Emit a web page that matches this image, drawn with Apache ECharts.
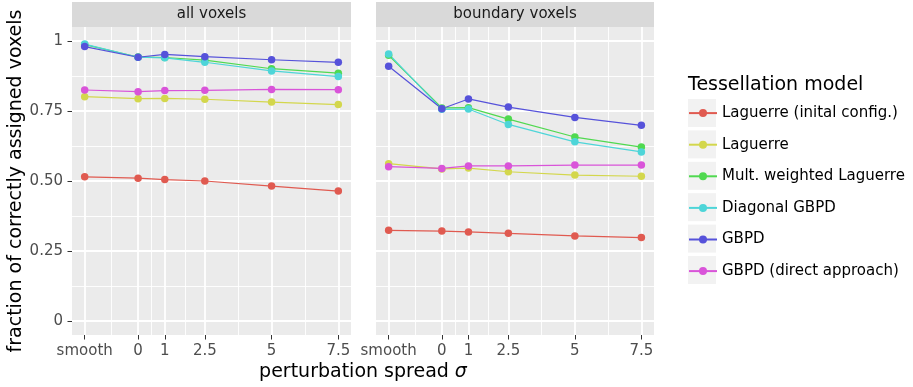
<!DOCTYPE html>
<html>
<head>
<meta charset="utf-8">
<script src="https://cdn.jsdelivr.net/npm/echarts@6/dist/echarts.min.js"></script>
<style>
  html, body { margin: 0; padding: 0; background: #fff; }
  #chart { width: 913px; height: 387px; }
</style>
</head>
<body>
<div id="chart"></div>
<script>
// perturbation spread (smooth sits left of 0)
const xLabels = ['smooth', '0', '1', '2.5', '5', '7.5'];
const xPos = [-2, 0, 1, 2.5, 5, 7.5];
const xMinor = [-1, 0.5, 1.75, 3.75, 6.25];
const yTicks = [0, 0.25, 0.5, 0.75, 1];
const yTickLabels = ['0', '0.25', '0.50', '0.75', '1'];
const yMinor = [0.125, 0.375, 0.625, 0.875];
const panels = ['all voxels', 'boundary voxels'];
const models = ['Laguerre (inital config.)', 'Laguerre', 'Mult. weighted Laguerre',
  'Diagonal GBPD', 'GBPD', 'GBPD (direct approach)'];
const colors = ['#E05A50', '#D3D74C', '#50D950', '#4ED5D8', '#5652DA', '#D954D9'];

// all voxels
const allLagInit = [0.515, 0.510, 0.505, 0.500, 0.482, 0.464];
const allLag     = [0.801, 0.794, 0.795, 0.792, 0.782, 0.773];
const allMwl     = [0.987, 0.943, 0.941, 0.932, 0.901, 0.885];
const allDiag    = [0.989, 0.942, 0.940, 0.924, 0.893, 0.873];
const allGbpd    = [0.980, 0.942, 0.952, 0.944, 0.933, 0.924];
const allDirect  = [0.825, 0.819, 0.823, 0.824, 0.827, 0.826];
// boundary voxels
const bndLagInit = [0.324, 0.321, 0.318, 0.313, 0.304, 0.298];
const bndLag     = [0.562, 0.543, 0.546, 0.533, 0.521, 0.517];
const bndMwl     = [0.949, 0.761, 0.762, 0.721, 0.657, 0.621];
const bndDiag    = [0.954, 0.756, 0.757, 0.702, 0.640, 0.604];
const bndGbpd    = [0.910, 0.758, 0.793, 0.764, 0.727, 0.699];
const bndDirect  = [0.551, 0.545, 0.554, 0.554, 0.557, 0.557];

const panelData = [
  [allLagInit, allLag, allMwl, allDiag, allGbpd, allDirect],
  [bndLagInit, bndLag, bndMwl, bndDiag, bndGbpd, bndDirect]
];

const font = 'DejaVu Sans';
const grids = [
  { left: 72, top: 27, width: 279, height: 308 },
  { left: 376, top: 27, width: 278, height: 308 }
];
const noTick = { show: false, length: 0, lineStyle: { color: 'rgba(0,0,0,0)', width: 0 } };
const noLine = { show: false, onZero: false };

const xAxes = [], yAxes = [], series = [], graphics = [];
grids.forEach((g, p) => {
  // main x axis: ticks, labels, major grid
  xAxes.push({
    type: 'value', gridIndex: p, min: -2.475, max: 7.975, position: 'bottom',
    axisLine: noLine,
    axisTick: { show: true, customValues: xPos, length: 4.5, lineStyle: { color: '#333', width: 1 } },
    axisLabel: {
      customValues: xPos, margin: 9, color: '#4D4D4D', fontSize: 15, fontFamily: font,
      formatter: v => xLabels[xPos.indexOf(v)]
    },
    splitLine: { show: true, lineStyle: { color: '#fff', width: 1.8 } }
  });
  // minor x grid
  xAxes.push({
    type: 'value', gridIndex: p, min: -2.475, max: 7.975, position: 'bottom',
    axisLine: noLine,
    axisTick: Object.assign({ customValues: xMinor }, noTick),
    axisLabel: { show: false, customValues: xMinor },
    splitLine: { show: true, lineStyle: { color: '#fff', width: 0.9 } }
  });
  yAxes.push({
    type: 'value', gridIndex: p, min: -0.05, max: 1.05, position: 'left',
    name: p === 0 ? 'fraction of correctly assigned voxels' : '',
    nameLocation: 'middle', nameGap: 46,
    nameTextStyle: { fontSize: 19, color: '#000', fontFamily: font },
    axisLine: noLine,
    axisTick: p === 0
      ? { show: true, customValues: yTicks, length: 4.5, lineStyle: { color: '#333', width: 1 } }
      : Object.assign({ customValues: yTicks }, noTick),
    axisLabel: {
      show: p === 0, customValues: yTicks, margin: 9, color: '#4D4D4D', fontSize: 15, fontFamily: font,
      formatter: v => yTickLabels[yTicks.indexOf(v)]
    },
    splitLine: { show: true, lineStyle: { color: '#fff', width: 1.8 } }
  });
  yAxes.push({
    type: 'value', gridIndex: p, min: -0.05, max: 1.05, position: 'left',
    axisLine: noLine,
    axisTick: Object.assign({ customValues: yMinor }, noTick),
    axisLabel: { show: false, customValues: yMinor },
    splitLine: { show: true, lineStyle: { color: '#fff', width: 0.9 } }
  });

  panelData[p].forEach((vals, i) => {
    series.push({
      name: models[i], type: 'line',
      xAxisIndex: p * 2, yAxisIndex: p * 2,
      data: vals.map((v, k) => [xPos[k], v]),
      symbol: 'circle', symbolSize: 7.5,
      itemStyle: { color: colors[i] },
      lineStyle: { color: colors[i], width: 1.2 },
      emphasis: { disabled: true }
    });
  });

  // facet strip
  graphics.push({
    type: 'rect', shape: { x: g.left, y: 2, width: g.width, height: 25 },
    style: { fill: '#D9D9D9' }
  });
  graphics.push({
    type: 'text', x: g.left + g.width / 2, y: 14.5,
    style: { text: panels[p], fill: '#1A1A1A', font: '15px "DejaVu Sans"',
      textAlign: 'center', textVerticalAlign: 'middle' }
  });
});

// legend key backgrounds
models.forEach((m, i) => {
  graphics.push({
    type: 'rect', shape: { x: 688, y: 99 + i * 31.4, width: 28, height: 28 },
    style: { fill: '#F2F2F2' }
  });
});
graphics.push({
  type: 'text', x: 688, y: 85,
  style: { text: 'Tessellation model', fill: '#000', font: '19px "DejaVu Sans"',
    textAlign: 'left', textVerticalAlign: 'middle' }
});
graphics.push({
  type: 'text', x: 363, y: 372,
  style: {
    text: '{a|perturbation spread }{b|σ}',
    textAlign: 'center', textVerticalAlign: 'middle',
    rich: {
      a: { fontSize: 19, fontFamily: font, fill: '#000' },
      b: { fontSize: 19, fontFamily: font, fontStyle: 'italic', fill: '#000' }
    }
  }
});

const chart = echarts.init(document.getElementById('chart'), null, { renderer: 'canvas' });
chart.setOption({
  animation: false,
  grid: grids.map(g => Object.assign({ show: true, backgroundColor: '#EBEBEB', borderWidth: 0 }, g)),
  xAxis: xAxes,
  yAxis: yAxes,
  legend: {
    data: models, orient: 'vertical', left: 688, top: 105.6, padding: 0,
    itemWidth: 28, itemHeight: 10, itemGap: 16.6,
    textStyle: { fontSize: 15, color: '#000', fontFamily: font },
    selectedMode: false
  },
  graphic: graphics,
  series: series
});
</script>
</body>
</html>
